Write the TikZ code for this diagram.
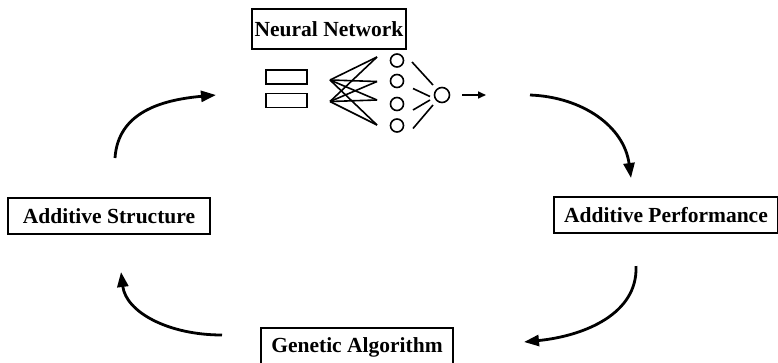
\documentclass[tikz,border=0pt]{standalone}
\usepackage{fontspec}
\setmainfont{Liberation Serif}
\usetikzlibrary{arrows.meta}
\begin{document}
\begin{tikzpicture}[x=1pt,y=-1pt,
  label box/.style={draw,line width=1.4pt,rectangle,inner sep=0pt,
    font=\fontsize{21.5}{25}\selectfont\bfseries},
  inrect/.style={draw,line width=1.6pt,rectangle,inner sep=0pt,minimum width=41pt,minimum height=14pt},
  neuron/.style={draw,line width=1.6pt,circle,inner sep=0pt,minimum size=13pt},
  wire/.style={line width=1.6pt},
  cyc/.style={line width=2.8pt,-{Triangle[length=15pt,width=11pt]}},
  small arrow/.style={line width=1.6pt,-{Triangle[length=8pt,width=7pt]}}]
\useasboundingbox (0,0) rectangle (778,362);
% boxes
\node[label box,minimum width=154pt,minimum height=40pt] (nn) at (329,29) {Neural Network};
\node[label box,minimum width=202pt,minimum height=36pt] (as) at (109,216) {Additive Structure};
\node[label box,minimum width=224pt,minimum height=36pt] (ap) at (666,215) {Additive Performance};
\node[label box,minimum width=192pt,minimum height=38pt] (ga) at (357,347) {Genetic Algorithm};
% network inputs
\node[inrect] (i1) at (286.5,77) {};
\node[inrect] (i2) at (286.5,100.5) {};
% hidden neurons
\node[neuron] (h1) at (397,60.5) {};
\node[neuron] (h2) at (397,81) {};
\node[neuron] (h3) at (397,104) {};
\node[neuron] (h4) at (397,125.5) {};
% output neuron
\node[neuron,minimum size=15pt] (o) at (442,95) {};
% wire end points
\coordinate (l1) at (330,80);
\coordinate (l2) at (330,101.5);
\coordinate (r1) at (377,57);
\coordinate (r2) at (377,81.5);
\coordinate (r3) at (377,100);
\coordinate (r4) at (377,125);
\foreach \a in {l1,l2}{
  \foreach \b in {r1,r2,r3,r4}{
    \draw[wire] (\a) -- (\b);
  }
}
\coordinate (s1) at (412,62);  \coordinate (t1) at (433,85);
\coordinate (s2) at (413,88.5);\coordinate (t2) at (430,96.5);
\coordinate (s3) at (413,110); \coordinate (t3) at (430,100);
\coordinate (s4) at (413,128.5);\coordinate (t4) at (433,105);
\foreach \k in {1,2,3,4}{\draw[wire] (s\k) -- (t\k);}
\coordinate (oa) at (462,95);
\coordinate (ob) at (486,95);
\draw[small arrow] (oa) -- (ob);
% cycle arrows
\coordinate (a1s) at (115,158); \coordinate (a1e) at (216,95);
\coordinate (a2s) at (530,95);  \coordinate (a2e) at (631,178);
\coordinate (a3s) at (636,266); \coordinate (a3e) at (524,342);
\coordinate (a4s) at (222,335); \coordinate (a4e) at (121,272);
\draw[cyc] (a1s) .. controls (118,113) and (160,100) .. (a1e);
\draw[cyc] (a2s) .. controls (582,97) and (624,126) .. (a2e);
\draw[cyc] (a3s) .. controls (638,314) and (584,336) .. (a3e);
\draw[cyc] (a4s) .. controls (168,335) and (126,312) .. (a4e);
\end{tikzpicture}
\end{document}
